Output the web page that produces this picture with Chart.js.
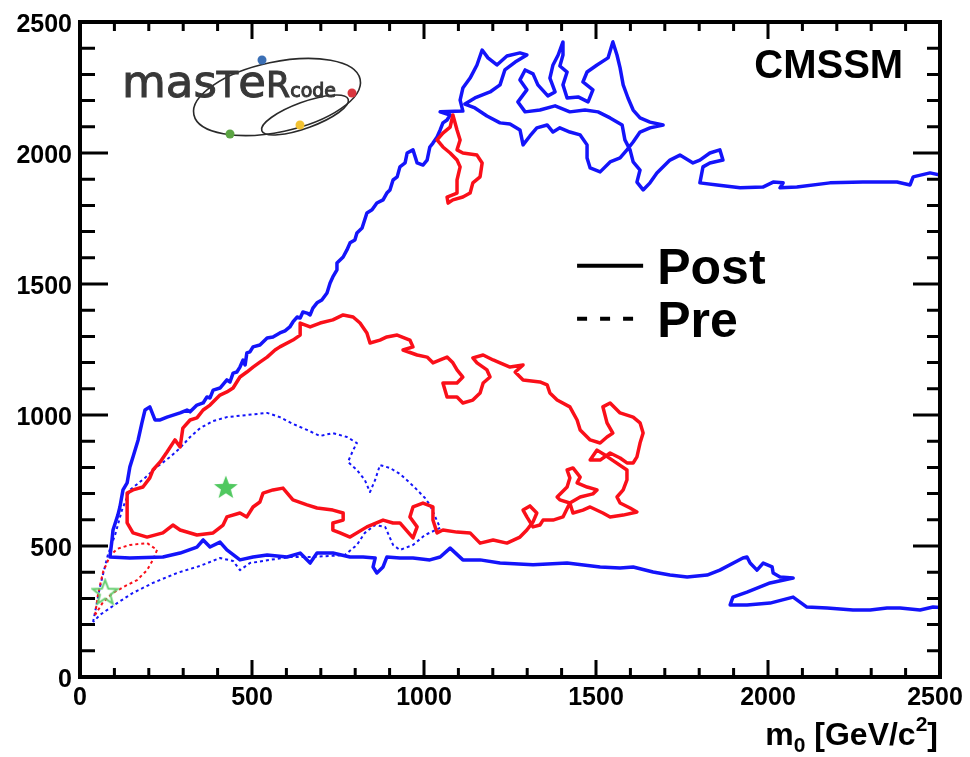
<!DOCTYPE html>
<html>
<head>
<meta charset="utf-8">
<script src="https://cdn.jsdelivr.net/npm/chart.js@4.4.1/dist/chart.umd.min.js"></script>
<style>
  html, body { margin: 0; padding: 0; background: #fff; }
  canvas { display: block; }
</style>
</head>
<body>
<canvas id="chart" width="970" height="757"></canvas>
<script>
// 68% CL contours in the (m0, m1/2) plane, GeV. Post = after LHC, Pre = before.
const postBlue = [
  [2500,265],[2480,267],[2442,256],[2384,263],[2346,263],[2297,256],[2247,256],[2172,263],[2113,267],[2093,286],
  [2073,305],[2006,282],[1939,275],[1890,275],[1898,305],[1939,324],[2006,359],[2073,378],[2035,382],[2015,397],
  [2012,420],[1986,435],[1968,408],[1948,435],[1939,458],[1927,454],[1860,408],[1823,389],[1765,382],[1715,389],
  [1666,401],[1608,420],[1570,416],[1512,420],[1416,435],[1317,428],[1221,435],[1163,447],[1113,447],[1076,492],
  [1047,458],[1017,447],[968,454],[930,454],[892,458],[881,420],[863,397],[852,420],[858,454],[823,458],
  [785,458],[735,473],[689,473],[669,435],[640,473],[602,458],[544,466],[503,458],[465,447],[427,485],
  [407,515],[378,496],[358,523],[340,496],[291,473],[241,458],[145,454],[87,458],
  [93,523],[96,561],[110,618],[116,649],[125,714],[137,741],[145,802],[154,840],[169,905],[180,970],
  [189,1019],[203,1031],[218,981],[233,981],[253,992],[291,1008],[311,1019],[320,1012],[340,1038],[358,1046],
  [369,1069],[378,1065],[387,1095],[407,1103],[427,1134],[436,1126],[445,1160],[456,1164],[465,1183],[474,1210],
  [480,1191],[485,1237],[494,1241],[503,1260],[523,1267],[544,1294],[561,1298],[581,1313],[596,1321],[610,1336],
  [619,1355],[631,1374],[640,1370],[648,1393],[660,1389],[669,1382],[677,1408],[689,1428],[703,1439],[718,1466],
  [727,1504],[735,1527],[747,1554],[747,1580],[765,1603],[776,1630],[785,1657],[799,1668],[805,1695],[820,1714],
  [834,1771],[849,1783],[863,1809],[881,1821],[892,1847],[901,1859],[910,1897],[922,1909],[930,1947],[945,1962],
  [951,2000],[968,2012],[980,1962],[997,1954],[1009,1973],[1017,2023],[1026,2038],[1038,2061],[1047,2088],[1055,2115],
  [1067,2126],[1076,2145],[1047,2157],[1113,2160],[1105,2202],[1113,2248],[1134,2286],[1154,2336],[1169,2393],[1186,2363],
  [1212,2336],[1241,2370],[1279,2382],[1299,2374],[1265,2347],[1235,2317],[1221,2260],[1192,2233],[1148,2210],[1119,2187],
  [1148,2172],[1183,2141],[1221,2115],[1250,2111],[1279,2088],[1288,2031],[1308,2065],[1328,2096],[1358,2107],[1375,2080],
  [1395,2096],[1424,2080],[1454,2069],[1474,2031],[1474,1981],[1483,1943],[1512,1928],[1541,1966],[1570,1981],[1590,2012],
  [1608,2042],[1628,2080],[1657,2096],[1695,2107],[1657,2118],[1628,2134],[1608,2164],[1593,2210],[1579,2260],[1570,2325],
  [1561,2374],[1549,2424],[1535,2363],[1503,2336],[1474,2309],[1462,2271],[1491,2241],[1477,2195],[1448,2214],[1416,2210],
  [1404,2260],[1416,2309],[1395,2332],[1404,2374],[1404,2424],[1390,2374],[1375,2336],[1366,2286],[1381,2233],[1360,2218],
  [1331,2260],[1317,2302],[1294,2317],[1279,2279],[1299,2241],[1273,2195],[1294,2157],[1337,2164],[1381,2180],[1424,2157],
  [1468,2164],[1506,2157],[1541,2134],[1576,2107],[1584,2050],[1599,2012],[1608,1966],[1628,1935],[1619,1889],[1637,1859],
  [1657,1886],[1677,1924],[1715,1973],[1744,1992],[1782,1962],[1802,1973],[1831,2000],[1860,2012],[1869,1973],[1831,1962],
  [1811,1947],[1802,1886],[1852,1878],[1919,1867],[1985,1870],[2015,1889],[2044,1886],[2035,1867],[2084,1870],[2180,1886],
  [2276,1889],[2375,1889],[2413,1878],[2422,1909],[2471,1924],[2500,1916]
];

const postRed = [
  [137,588],[137,657],[137,702],[154,714],[183,725],[203,760],[212,790],[233,821],[253,859],[276,905],
  [291,878],[299,950],[320,981],[340,989],[358,1019],[378,1038],[407,1076],[427,1088],[445,1103],[465,1145],
  [485,1164],[503,1183],[523,1202],[544,1221],[567,1248],[581,1260],[619,1286],[640,1305],[640,1351],[669,1336],
  [698,1351],[735,1363],[765,1382],[794,1374],[814,1351],[834,1313],[843,1275],[872,1286],[892,1298],[922,1305],
  [959,1286],[968,1260],[939,1248],[980,1229],[1009,1221],[1026,1199],[1047,1210],[1067,1221],[1084,1199],[1096,1172],
  [1113,1145],[1096,1122],[1055,1122],[1067,1069],[1096,1069],[1113,1046],[1142,1057],[1163,1084],[1172,1122],[1192,1145],
  [1183,1172],[1154,1199],[1142,1218],[1172,1229],[1201,1210],[1221,1199],[1250,1183],[1288,1191],[1265,1164],[1288,1134],
  [1337,1126],[1358,1115],[1366,1084],[1387,1057],[1424,1031],[1445,981],[1454,943],[1483,905],[1512,893],[1532,916],
  [1549,931],[1532,970],[1520,1031],[1541,1046],[1570,1008],[1608,992],[1628,970],[1637,931],[1628,893],[1619,840],
  [1608,817],[1590,817],[1570,836],[1541,855],[1512,828],[1483,828],[1503,866],[1526,847],[1555,821],[1590,790],
  [1590,779],[1590,752],[1579,714],[1561,687],[1570,664],[1599,645],[1619,630],[1579,618],[1541,611],[1520,626],
  [1483,649],[1462,637],[1433,626],[1424,664],[1395,676],[1387,687],[1416,725],[1424,760],[1416,790],[1433,798],
  [1454,763],[1445,741],[1474,725],[1503,714],[1491,699],[1454,687],[1424,664],[1404,611],[1375,599],[1346,599],
  [1337,580],[1317,573],[1299,611],[1288,637],[1308,653],[1328,626],[1317,592],[1299,561],[1279,534],[1241,511],
  [1201,523],[1163,511],[1134,550],[1096,553],[1055,561],[1038,550],[1026,599],[1026,649],[997,664],[968,649],
  [959,611],[980,573],[968,531],[930,588],[910,588],[881,599],[834,573],[785,534],[756,550],[735,561],
  [735,588],[765,599],[765,626],[735,637],[689,645],[660,657],[619,676],[590,721],[561,714],[532,702],
  [523,668],[503,649],[485,611],[465,626],[427,611],[416,580],[387,550],[340,542],[291,561],[270,580],
  [241,550],[195,534],[154,550],[137,588]
];

const postRedIsland = [
  [1084,2145],[1096,2088],[1105,2050],[1096,2012],[1113,2000],[1154,1992],[1169,1962],[1163,1909],[1142,1886],[1134,1847],
  [1113,1832],[1084,1821],[1070,1809],[1067,1832],[1096,1847],[1096,1897],[1105,1947],[1096,1973],[1076,2000],[1055,2023],
  [1038,2050],[1055,2076],[1076,2099],[1084,2145]
];

const preBlue = [
  [38,210],[49,282],[58,344],[70,408],[81,466],[102,542],[122,637],[145,714],[189,760],[224,802],
  [262,840],[291,874],[320,916],[349,950],[387,977],[427,992],[485,1000],[544,1008],[581,992],[619,966],
  [660,943],[698,920],[735,931],[776,916],[805,893],[794,866],[779,821],[805,790],[828,752],[843,706],
  [858,752],[872,809],[901,798],[930,775],[959,741],[980,714],[1003,683],[1017,657],[1047,569],[1003,542],
  [968,504],[930,485],[910,504],[887,573],[858,580],[828,550],[805,504],[770,466],[727,462],[669,458],
  [610,458],[552,447],[494,435],[465,408],[445,443],[407,454],[349,424],[282,397],[212,359],[154,321],
  [108,282],[58,237],[38,210]
];

const preRed = [
  [44,237],[52,313],[67,401],[87,462],[108,489],[145,504],[195,511],[224,485],[212,447],[195,408],
  [166,370],[131,347],[96,321],[67,286],[44,237]
];

// best-fit points
const bestFitPost = [[424,725]];
const bestFitPre = [[73,324]];

// axis ticks and labels
const majorTicks = [0, 500, 1000, 1500, 2000, 2500];
const tickLabels = ['0', '500', '1000', '1500', '2000', '2500'];
const minorStep = 100;
const legendLabels = ['Post', 'Pre'];
const modelName = 'CMSSM';

const BLUE = 'rgb(20,20,250)';
const RED = 'rgb(250,15,25)';
const GREEN = 'rgb(80,200,95)';
const FONT = '"Liberation Sans", Arial, sans-serif';

const toPts = arr => arr.map(([x, y]) => ({ x, y }));

function starImage(size, filled, color) {
  const c = document.createElement('canvas');
  c.width = size; c.height = size;
  const g = c.getContext('2d');
  const R = size / 2 - 1.5, r = R * 0.42, cx = size / 2, cy = size / 2 + 1;
  g.beginPath();
  for (let i = 0; i < 10; i++) {
    const rad = i % 2 === 0 ? R : r;
    const a = -Math.PI / 2 + i * Math.PI / 5;
    const px = cx + rad * Math.cos(a), py = cy + rad * Math.sin(a);
    if (i === 0) g.moveTo(px, py); else g.lineTo(px, py);
  }
  g.closePath();
  if (filled) { g.fillStyle = color; g.fill(); }
  else { g.strokeStyle = color; g.lineWidth = 2; g.stroke(); }
  return c;
}

const lineSet = (label, data, color, dotted) => ({
  label,
  data: toPts(data),
  showLine: true,
  borderColor: color,
  borderWidth: dotted ? 2 : 3.5,
  borderDash: dotted ? [3, 3] : [],
  borderJoinStyle: 'round',
  borderCapStyle: dotted ? 'butt' : 'round',
  pointRadius: 0,
  pointHoverRadius: 0,
  fill: false,
  tension: 0
});

// frame, ticks, labels, legend and logo
const decorations = {
  id: 'decorations',
  beforeDraw(chart) {
    const ctx = chart.ctx;
    ctx.save();
    ctx.fillStyle = '#fff';
    ctx.fillRect(0, 0, chart.width, chart.height);
    ctx.restore();
  },
  afterDraw(chart) {
    const ctx = chart.ctx;
    const { left, right, top, bottom } = chart.chartArea;
    const xs = chart.scales.x, ys = chart.scales.y;
    ctx.save();
    ctx.strokeStyle = '#000';
    ctx.fillStyle = '#000';

    // ticks
    ctx.lineWidth = 3;
    ctx.lineCap = 'butt';
    for (let v = 0; v <= 2500; v += minorStep) {
      const major = majorTicks.includes(v);
      const px = xs.getPixelForValue(v);
      const py = ys.getPixelForValue(v);
      const lx = major ? 17 : 9;
      const ly = major ? 28 : 15;
      const lyr = major ? 27 : 13;
      ctx.beginPath();
      ctx.moveTo(px, bottom); ctx.lineTo(px, bottom - lx);
      ctx.moveTo(px, top); ctx.lineTo(px, top + lx);
      ctx.moveTo(left, py); ctx.lineTo(left + ly, py);
      ctx.moveTo(right, py); ctx.lineTo(right - lyr, py);
      ctx.stroke();
    }

    // frame
    ctx.lineWidth = 4;
    ctx.lineJoin = 'miter';
    ctx.strokeRect(left, top, right - left, bottom - top);

    // tick labels
    ctx.font = 'bold 25px ' + FONT;
    ctx.textAlign = 'right';
    ctx.textBaseline = 'middle';
    majorTicks.forEach((v, i) => {
      ctx.fillText(tickLabels[i], left - 8, ys.getPixelForValue(v) + 3);
    });
    ctx.textAlign = 'center';
    ctx.textBaseline = 'alphabetic';
    majorTicks.forEach((v, i) => {
      ctx.fillText(tickLabels[i], xs.getPixelForValue(v) - (i === majorTicks.length - 1 ? 5 : 0), bottom + 28);
    });

    // axis title m0 [GeV/c2]
    const big = 'bold 32px ' + FONT, small = 'bold 21px ' + FONT;
    const parts = [
      { t: 'm', f: big, dy: 0 },
      { t: '0', f: small, dy: 7 },
      { t: ' [GeV/c', f: big, dy: 0 },
      { t: '2', f: small, dy: -14 },
      { t: ']', f: big, dy: 0 }
    ];
    let total = 0;
    parts.forEach(p => { ctx.font = p.f; p.w = ctx.measureText(p.t).width; total += p.w; });
    let tx = right - 2 - total;
    const tBase = bottom + 68;
    ctx.textAlign = 'left';
    parts.forEach(p => { ctx.font = p.f; ctx.fillText(p.t, tx, tBase + p.dy); tx += p.w; });

    // model name
    ctx.font = 'bold 40px ' + FONT;
    ctx.fillText(modelName, xs.getPixelForValue(1960), ys.getPixelForValue(2285));

    // legend
    const lx0 = xs.getPixelForValue(1445), lx1 = xs.getPixelForValue(1637);
    const lyPost = ys.getPixelForValue(1570), lyPre = ys.getPixelForValue(1367);
    ctx.lineWidth = 4;
    ctx.beginPath(); ctx.moveTo(lx0, lyPost); ctx.lineTo(lx1, lyPost); ctx.stroke();
    ctx.setLineDash([10, 13]);
    ctx.beginPath(); ctx.moveTo(lx0, lyPre); ctx.lineTo(lx1, lyPre); ctx.stroke();
    ctx.setLineDash([]);
    ctx.font = 'bold 50px ' + FONT;
    const textX = xs.getPixelForValue(1678);
    ctx.fillText(legendLabels[0], textX, lyPost + 18);
    ctx.fillText(legendLabels[1], textX, lyPre + 18);

    // MasterCode logo
    const ox = left, oy = top;
    ctx.strokeStyle = '#2a2a2a';
    ctx.lineWidth = 1.6;
    ctx.beginPath();
    ctx.ellipse(ox + 197, oy + 75, 85, 35, -0.21, 0, Math.PI * 2);
    ctx.stroke();
    ctx.beginPath();
    ctx.ellipse(ox + 225, oy + 93, 46, 13, -0.35, 0, Math.PI * 2);
    ctx.stroke();

    const glyphs = [
      ['m', 45], ['a', 45], ['s', 45], ['T', 35], ['e', 45], ['R', 35]
    ];
    ctx.fillStyle = '#383838';
    ctx.strokeStyle = '#383838';
    ctx.lineWidth = 1;
    let gx = ox + 42;
    const gBase = oy + 75;
    glyphs.forEach(([ch, sz]) => {
      ctx.font = sz + 'px "DejaVu Sans", sans-serif';
      ctx.fillText(ch, gx, gBase);
      ctx.strokeText(ch, gx, gBase);
      gx += ctx.measureText(ch).width;
    });
    ctx.font = '19px "DejaVu Sans", sans-serif';
    ctx.fillText('code', gx, gBase);
    ctx.strokeText('code', gx, gBase);

    const dots = [
      [ox + 182, oy + 38, '#3b6fb5'],
      [ox + 272, oy + 71, '#d9363e'],
      [ox + 150, oy + 112, '#5ba443'],
      [ox + 220, oy + 103, '#f2c232']
    ];
    dots.forEach(([dx, dy, col]) => {
      ctx.fillStyle = col;
      ctx.beginPath(); ctx.arc(dx, dy, 4.5, 0, Math.PI * 2); ctx.fill();
    });
    ctx.restore();
  }
};

new Chart(document.getElementById('chart'), {
  type: 'scatter',
  data: {
    datasets: [
      {
        label: 'best fit (post)', data: toPts(bestFitPost),
        pointStyle: starImage(28, true, GREEN), pointRadius: 6, showLine: false
      },
      {
        label: 'best fit (pre)', data: toPts(bestFitPre),
        pointStyle: starImage(29, false, 'rgb(100,205,110)'), pointRadius: 6, showLine: false
      },
      lineSet('Post red', postRed, RED, false),
      lineSet('Post red island', postRedIsland, RED, false),
      lineSet('Post blue', postBlue, BLUE, false),
      lineSet('Pre red', preRed, RED, true),
      lineSet('Pre blue', preBlue, BLUE, true)
    ]
  },
  options: {
    responsive: false,
    animation: false,
    events: [],
    layout: { padding: { left: 80, right: 30, top: 22, bottom: 80 } },
    plugins: { legend: { display: false }, tooltip: { enabled: false } },
    scales: {
      x: { type: 'linear', min: 0, max: 2500, display: false },
      y: { type: 'linear', min: 0, max: 2500, display: false }
    }
  },
  plugins: [decorations]
});
</script>
</body>
</html>
